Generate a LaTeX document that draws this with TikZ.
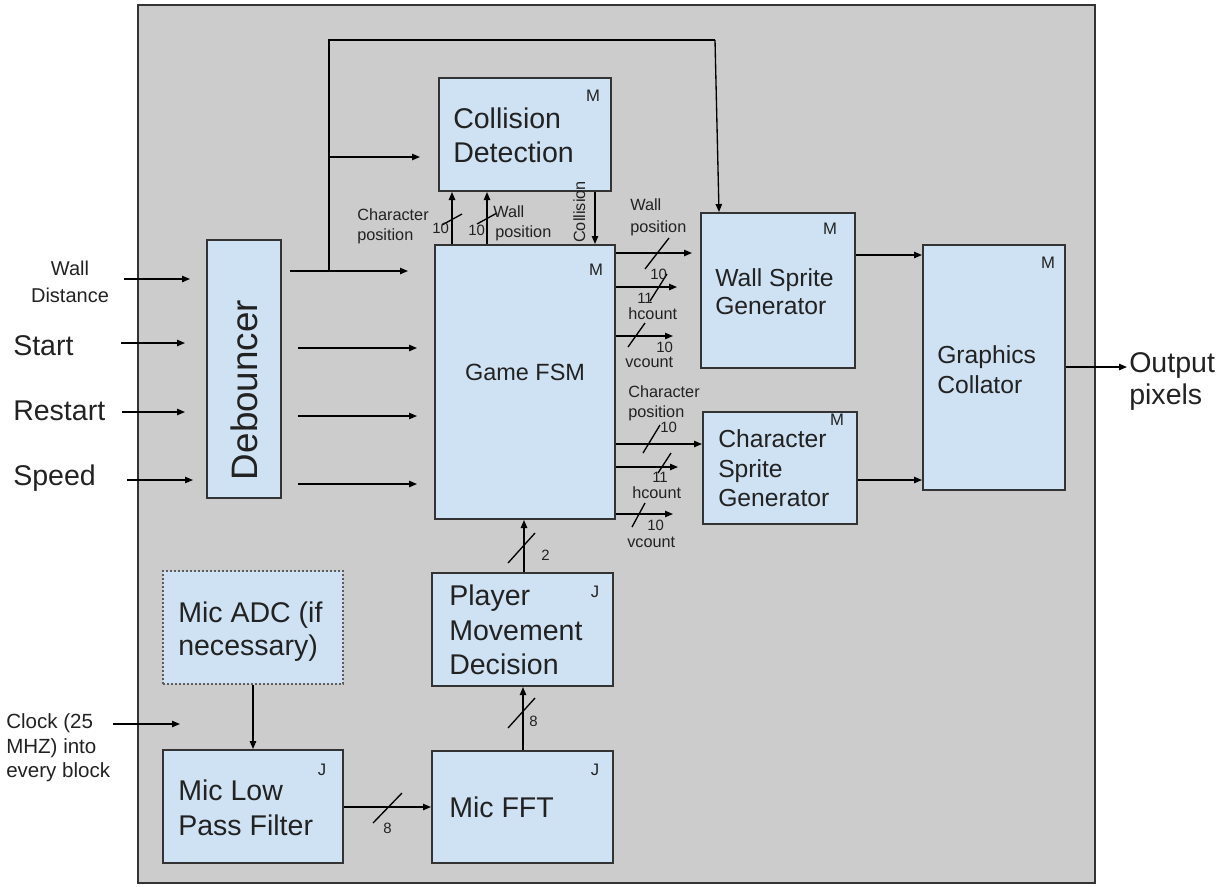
\documentclass[tikz,border=0pt]{standalone}
\usepackage{fontspec}
\setmainfont{Liberation Sans}
\usetikzlibrary{arrows.meta,fit}
\definecolor{bg}{HTML}{CCCCCC}
\definecolor{boxfill}{HTML}{CFE2F3}
\definecolor{edge}{HTML}{333333}
\definecolor{txt}{HTML}{222222}
\begin{document}
\begin{tikzpicture}[x=0.75pt,y=-0.75pt,
  blk/.style={draw=edge, line width=1.5pt, fill=boxfill, inner sep=0pt, rectangle},
  arr/.style={-{Triangle[length=6pt,width=4.8pt]}, line width=1pt, draw=black},
  ln/.style={line width=1pt, draw=black},
  lbl/.style={inner sep=0pt, text=txt, anchor=base west},
  tbig/.style={lbl, font=\fontsize{21.4pt}{25pt}\selectfont},
  tmid/.style={lbl, font=\fontsize{18.5pt}{22pt}\selectfont},
  tsm/.style={lbl, font=\fontsize{12.2pt}{15pt}\selectfont},
  tnum/.style={lbl, font=\fontsize{11.2pt}{13pt}\selectfont},
  tin/.style={lbl, font=\fontsize{15.4pt}{18pt}\selectfont},
  tmark/.style={inner sep=0pt, text=txt, font=\fontsize{12.5pt}{14pt}\selectfont},
]
\useasboundingbox (0,0) rectangle (1226,886);
% frame
\node[fit={(138,5)(1095,883)}, fill=bg, draw=edge, line width=1.5pt, inner sep=0pt] (frame) {};

% blocks
\node[blk, fit={(439,78)(611,191)}] (coll) {};
\node[blk, fit={(207,240)(281,498)}] (deb) {};
\node[blk, fit={(435,245)(615,519)}] (fsm) {};
\node[blk, fit={(701,213)(855,368)}] (wall) {};
\node[blk, fit={(703,412)(857,524)}] (chr) {};
\node[blk, fit={(923,245)(1065,490)}] (gc) {};
\node[blk, fit={(432,573)(613,686)}] (pmd) {};
\node[blk, draw=edge!80, line width=1.2pt, dash pattern=on 1.2pt off 1.8pt, fit={(163,571)(343,684)}] (adc) {};
\node[blk, fit={(163,750)(343,863)}] (lpf) {};
\node[blk, fit={(432,751)(613,863)}] (fft) {};

% block texts
\node[tbig] (tcoll1) at (453,128) {Collision};
\node[tbig] (tcoll2) at (453,162) {Detection};
\node[tmark] (mcoll) at (593,96) {M};
\node[inner sep=0pt, text=txt, font=\fontsize{27.6pt}{30pt}\selectfont, rotate=90, anchor=base] (tdeb) at (257,390) {Debouncer};
\node[inner sep=0pt, text=txt, font=\fontsize{17.6pt}{20pt}\selectfont, anchor=base] (tfsm) at (525,380) {Game FSM};
\node[tmark] (mfsm) at (596,270) {M};
\node[tmid] (twall1) at (715,286) {Wall Sprite};
\node[tmid] (twall2) at (715,314) {Generator};
\node[tmark] (mwall) at (830,229) {M};
\node[tmid] (tchr1) at (718,447) {Character};
\node[tmid] (tchr2) at (718,477) {Sprite};
\node[tmid] (tchr3) at (718,506) {Generator};
\node[tmark] (mchr) at (837,420) {M};
\node[tmid] (tgc1) at (937,363) {Graphics};
\node[tmid] (tgc2) at (937,393) {Collator};
\node[tmark] (mgc) at (1048,263) {M};
\node[tbig] (tpmd1) at (449,605) {Player};
\node[tbig] (tpmd2) at (449,640) {Movement};
\node[tbig] (tpmd3) at (449,674) {Decision};
\node[tmark] (jpmd) at (595,592) {J};
\node[tbig] (tfft) at (449,817) {Mic FFT};
\node[tmark] (jfft) at (595,770) {J};
\node[tbig] (tadc1) at (178,622) {Mic ADC (if};
\node[tbig] (tadc2) at (178,655) {necessary)};
\node[tbig] (tlpf1) at (178,800) {Mic Low};
\node[tbig] (tlpf2) at (178,835) {Pass Filter};
\node[tmark] (jlpf) at (322,770) {J};

% inputs
\node[inner sep=0pt, text=txt, font=\fontsize{15pt}{18pt}\selectfont, anchor=base] (twd1) at (70,275) {Wall};
\node[inner sep=0pt, text=txt, font=\fontsize{15pt}{18pt}\selectfont, anchor=base] (twd2) at (70,302) {Distance};
\node[tbig] (tstart) at (13,355) {Start};
\node[tbig] (trestart) at (13,420) {Restart};
\node[tbig] (tspeed) at (13,485) {Speed};
\node[tin] (tclk1) at (6,728) {Clock (25};
\node[tin] (tclk2) at (6,753) {MHZ) into};
\node[tin] (tclk3) at (6,777) {every block};
\node[tbig] (tout1) at (1129,372) {Output};
\node[tbig] (tout2) at (1129,404) {pixels};

\coordinate (iwd1) at (124,279); \coordinate (iwd2) at (190,279);
\coordinate (ist1) at (121,343); \coordinate (ist2) at (185,343);
\coordinate (irs1) at (122,412); \coordinate (irs2) at (185,412);
\coordinate (isp1) at (127,480); \coordinate (isp2) at (193,480);
\coordinate (ick1) at (113,724); \coordinate (ick2) at (180,724);
\draw[arr] (iwd1) -- (iwd2);
\draw[arr] (ist1) -- (ist2);
\draw[arr] (irs1) -- (irs2);
\draw[arr] (isp1) -- (isp2);
\draw[arr] (ick1) -- (ick2);

% debouncer outputs
\coordinate (o0s) at (290,271); \coordinate (oj) at (329,271); \coordinate (o0e) at (408,271);
\coordinate (o1s) at (298,348); \coordinate (o1e) at (417,348);
\coordinate (o2s) at (298,416); \coordinate (o2e) at (417,416);
\coordinate (o3s) at (298,484); \coordinate (o3e) at (417,484);
\coordinate (tl) at (329,40); \coordinate (tr) at (715,40);
\coordinate (cb) at (329,157); \coordinate (cbe) at (420,157);
\draw[ln] (o0s) -- (oj);
\draw[arr] (oj) -- (o0e);
\draw[ln] (oj) -- (tl) -- (tr);
\draw[arr] (tr) -- (wall.north -| 719,0);
\draw[arr] (cb) -- (cbe);
\draw[arr] (o1s) -- (o1e);
\draw[arr] (o2s) -- (o2e);
\draw[arr] (o3s) -- (o3e);

% FSM <-> collision
\draw[arr] (fsm.north -| 452,0) -- (coll.south -| 452,0);
\draw[arr] (fsm.north -| 487,0) -- (coll.south -| 487,0);
\draw[arr] (coll.south -| 595,0) -- (fsm.north -| 595,0);
\draw[ln] (442,225) -- (462,214);
\draw[ln] (477,224) -- (497,213);
\node[tnum] (n10a) at (432,233) {10};
\node[tnum] (n10b) at (468,235) {10};
\node[tsm] (tcp1) at (357,220) {Character};
\node[tsm] (tcp2) at (357,240) {position};
\node[tsm] (twp1) at (493,217) {Wall};
\node[tsm] (twp2) at (495,237) {position};
\node[inner sep=0pt, text=txt, font=\fontsize{12.2pt}{15pt}\selectfont, rotate=90, anchor=base] (tcol) at (585,212) {Collision};

% FSM -> wall sprite
\coordinate (w1) at (692,253); \coordinate (w2) at (677,287); \coordinate (w3) at (673,336);
\draw[arr] (fsm.east |- 0,253) -- (w1);
\draw[arr] (fsm.east |- 0,287) -- (w2);
\draw[arr] (fsm.east |- 0,336) -- (w3);
\draw[ln] (645,269) -- (669,238);
\draw[ln] (650,301) -- (667,274);
\draw[ln] (628,347) -- (645,323);
\node[tsm] (twa1) at (630,210) {Wall};
\node[tsm] (twa2) at (630,232) {position};
\node[tnum] (nw1) at (650,279) {10};
\node[tnum] (nw2) at (637,303) {11};
\node[tsm] (thc1) at (628,319) {hcount};
\node[tnum] (nw3) at (656,352) {10};
\node[tsm] (tvc1) at (625,367) {vcount};

% FSM -> character sprite
\coordinate (c2) at (678,467); \coordinate (c3) at (673,514);
\draw[arr] (fsm.east |- 0,444) -- (chr.west |- 0,444);
\draw[arr] (fsm.east |- 0,467) -- (c2);
\draw[arr] (fsm.east |- 0,514) -- (c3);
\draw[ln] (643,453) -- (660,425);
\draw[ln] (658,473) -- (671,453);
\draw[ln] (632,527) -- (645,503);
\node[tsm] (tca1) at (628,397) {Character};
\node[tsm] (tca2) at (628,417) {position};
\node[tnum] (nc1) at (660,432) {10};
\node[tnum] (nc2) at (652,482) {11};
\node[tsm] (thc2) at (632,498) {hcount};
\node[tnum] (nc3) at (647,530) {10};
\node[tsm] (tvc2) at (627,547) {vcount};

% sprites -> collator -> output
\coordinate (outp) at (1127,367);
\draw[arr] (wall.east |- 0,255) -- (gc.west |- 0,255);
\draw[arr] (chr.east |- 0,480) -- (gc.west |- 0,480);
\draw[arr] (gc.east |- 0,367) -- (outp);

% lower chain
\draw[arr] (pmd.north -| 524,0) -- (fsm.south -| 524,0);
\draw[ln] (508,563) -- (535,533);
\node[tnum] (n2) at (541,560) {2};
\draw[arr] (fft.north -| 523,0) -- (pmd.south -| 523,0);
\draw[ln] (508,728) -- (535,698);
\node[tnum] (n8a) at (529,726) {8};
\draw[arr] (adc.south -| 253,0) -- (lpf.north -| 253,0);
\draw[arr] (lpf.east |- 0,807) -- (fft.west |- 0,807);
\draw[ln] (373,823) -- (402,793);
\node[tnum] (n8b) at (383,833) {8};
\end{tikzpicture}
\end{document}
